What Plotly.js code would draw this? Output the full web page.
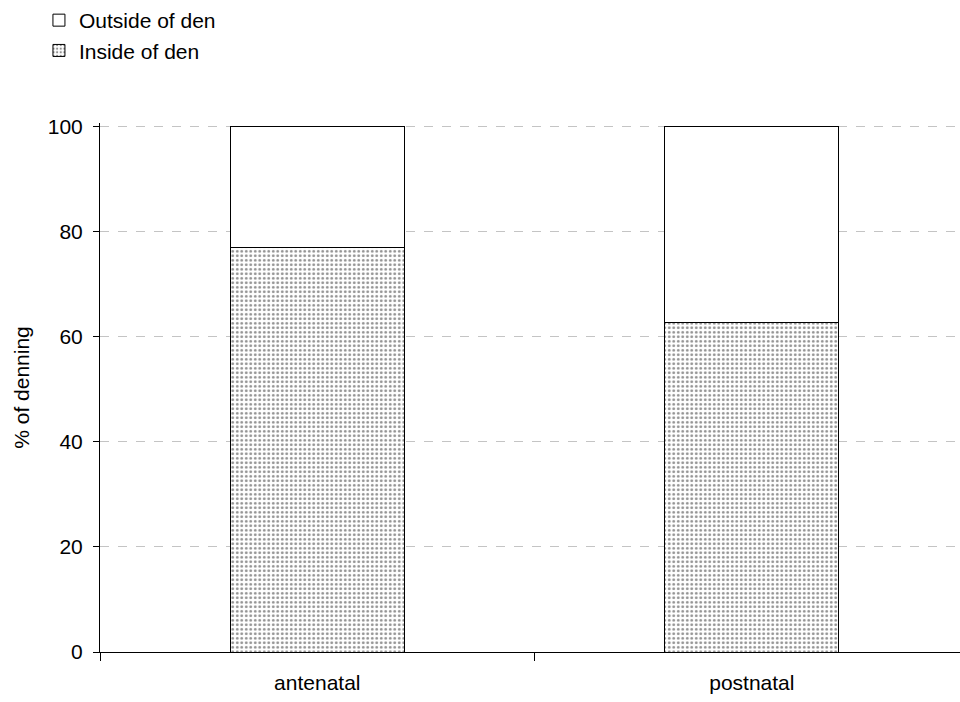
<!DOCTYPE html>
<html>
<head>
<meta charset="utf-8">
<script src="https://cdn.plot.ly/plotly-3.0.1.min.js"></script>
<style>html,body{margin:0;padding:0;background:#fff;}#chart{width:960px;height:702px;}</style>
</head>
<body>
<div id="chart"></div>
<script>
var categories = ["antenatal", "postnatal"];
var insideDen = [77, 62.7];
var outsideDen = [23, 37.3];
var seriesNames = ["Inside of den", "Outside of den"];
var yTicks = [0, 20, 40, 60, 80, 100];

var FONT = "Liberation Sans, Arial, sans-serif";

var traces = [
  {
    type: "bar", name: seriesNames[0], x: categories, y: insideDen, width: 0.4,
    marker: {color: "#ffffff", line: {color: "#000", width: 1},
             pattern: {shape: ".", fgcolor: "#909090", bgcolor: "#ffffff", size: 4.5, solidity: 0.3}}
  },
  {
    type: "bar", name: seriesNames[1], x: categories, y: outsideDen, width: 0.4,
    marker: {color: "#ffffff", line: {color: "#000", width: 1}}
  }
];

var layout = {
  width: 960, height: 702,
  margin: {l: 100, r: 0, t: 122, b: 50},
  barmode: "stack",
  paper_bgcolor: "#fff", plot_bgcolor: "#fff",
  font: {family: FONT, size: 21, color: "#000"},
  showlegend: true,
  legend: {x: -0.071, y: 1.232, xanchor: "left", yanchor: "top", traceorder: "reversed",
           font: {family: FONT, size: 21, color: "#000"}, bgcolor: "rgba(0,0,0,0)"},
  xaxis: {
    type: "category", range: [-0.5, 1.479],
    showline: true, linecolor: "#000", linewidth: 1,
    ticks: "outside", tickson: "boundaries", ticklen: 8, tickcolor: "#000",
    ticklabelstandoff: 12,
    showgrid: false, zeroline: false, fixedrange: true
  },
  yaxis: {
    range: [0, 100.6], tickvals: yTicks,
    showline: true, linecolor: "#000", linewidth: 1,
    ticks: "outside", ticklen: 6, tickcolor: "#000", ticklabelstandoff: 6,
    showgrid: true, gridcolor: "#c4c4c4", griddash: "dash", gridwidth: 1,
    zeroline: false,
    title: {text: "% of denning", font: {family: FONT, size: 21}, standoff: 12},
    automargin: false
  }
};

Plotly.newPlot("chart", traces, layout, {displayModeBar: false, staticPlot: true});
</script>
</body>
</html>
